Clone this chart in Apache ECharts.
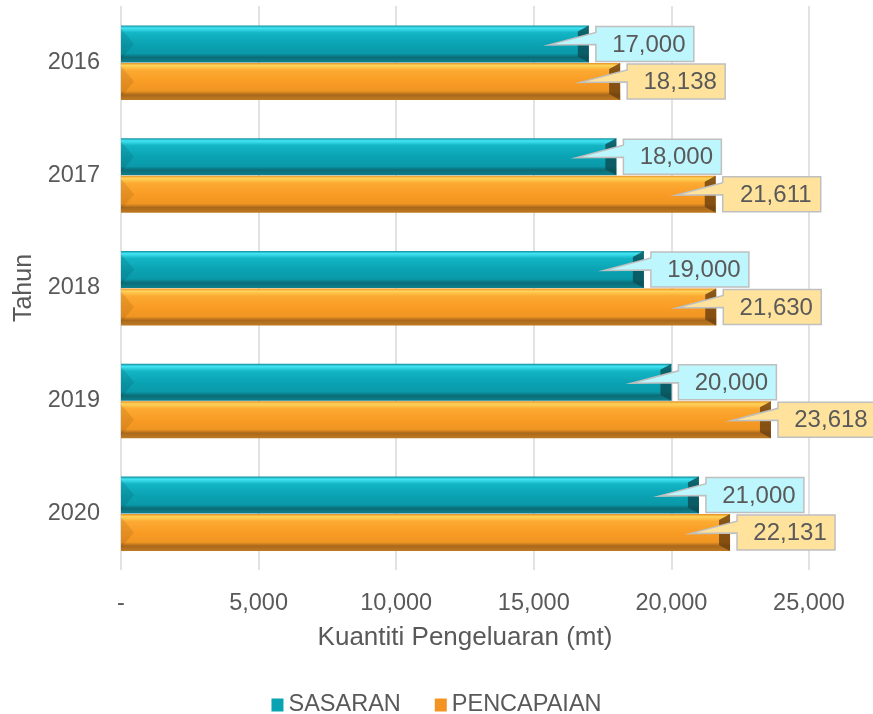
<!DOCTYPE html>
<html>
<head>
<meta charset="utf-8">
<script src="https://cdn.jsdelivr.net/npm/echarts@6/dist/echarts.min.js"></script>
<style>
html,body{margin:0;padding:0;background:#fff;}
#mybox{width:873px;height:714px;}
</style>
</head>
<body>
<div id="mybox"></div>
<script>
// data
var tahun = ['2016', '2017', '2018', '2019', '2020'];
var sasaran = [17000, 18000, 19000, 20000, 21000];
var pencapaian = [18138, 21611, 21630, 23618, 22131];
var xTicks = [0, 5000, 10000, 15000, 20000, 25000];

var grey = '#595959';
var font = '"Liberation Sans", Arial, sans-serif';

// warna untuk setiap siri
var gaya = [
    {
        stops: [[0, '#0e8d9a'], [0.07, '#43e5f4'], [0.2, '#13b5c5'], [0.5, '#0aa3b3'], [0.76, '#0a99a9'], [0.86, '#0b6c77'], [1, '#0d818d']],
        kanan: '#0a4c54', kiri: 'rgba(0,40,50,0.12)', label: '#bdf6fd', legend: '#0aa3b3'
    },
    {
        stops: [[0, '#e58f22'], [0.07, '#ffd45a'], [0.2, '#fcaa32'], [0.5, '#f99c25'], [0.76, '#ef9522'], [0.86, '#a9681b'], [1, '#bf7a22']],
        kanan: '#6a3e0e', kiri: 'rgba(90,40,0,0.12)', label: '#ffe39d', legend: '#f39322'
    }
];

function buatRender(k) {
    var g = gaya[k];
    return function (params, api) {
        var v = api.value(0), ci = api.value(1);
        var c = api.coord([v, ci]);
        var x0 = api.coord([0, ci])[0];
        var h = 37;
        var top = k === 0 ? c[1] - h : c[1] + 0.5;
        var x1 = c[0], y1 = top + h, mid = top + h / 2;
        var bx = x1 + 7, by = top + 1, bw = 98, bh = 35;
        var tipX = x1 - 40, tipY = mid + 1;
        var teks = echarts.format.addCommas(v);
        return {
            type: 'group',
            children: [
                {
                    type: 'rect',
                    shape: { x: x0, y: top, width: x1 - x0, height: h },
                    style: {
                        fill: new echarts.graphic.LinearGradient(0, 0, 0, 1,
                            g.stops.map(function (s) { return { offset: s[0], color: s[1] }; }))
                    }
                },
                {
                    type: 'polygon',
                    shape: { points: [[x0, top + 3], [x0 + 13, mid], [x0, y1 - 3]] },
                    style: { fill: g.kiri }
                },
                {
                    type: 'polygon',
                    shape: { points: [[x1 - 11, top + 6], [x1, top], [x1, y1], [x1 - 11, y1 - 6]] },
                    style: { fill: g.kanan, opacity: 0.8 }
                },
                {
                    type: 'polygon',
                    shape: {
                        points: [[tipX, tipY], [bx, by + 6], [bx, by], [bx + bw, by],
                            [bx + bw, by + bh], [bx, by + bh], [bx, by + 18]]
                    },
                    style: { fill: g.label, stroke: '#bfbfbf', lineWidth: 1.5 },
                    z2: 10
                },
                {
                    type: 'text',
                    x: bx + bw / 2 + 4,
                    y: by + bh / 2 + 1,
                    style: {
                        text: teks, fill: grey, font: '24px ' + font,
                        align: 'center', verticalAlign: 'middle'
                    },
                    z2: 11
                }
            ]
        };
    };
}

var mycharts = echarts.init(document.getElementById('mybox'));
var option = {
    animation: false,
    textStyle: { fontFamily: font },
    grid: { left: 121, right: 64, top: 6, bottom: 144 },
    legend: {
        bottom: -8,
        icon: 'rect',
        itemWidth: 12,
        itemHeight: 13,
        itemGap: 34,
        textStyle: { color: grey, fontSize: 23.5, fontFamily: font },
        data: ['SASARAN', 'PENCAPAIAN']
    },
    xAxis: {
        type: 'value',
        min: xTicks[0],
        max: xTicks[xTicks.length - 1],
        interval: xTicks[1] - xTicks[0],
        name: 'Kuantiti Pengeluaran (mt)',
        nameLocation: 'middle',
        nameGap: 55,
        nameTextStyle: { color: grey, fontSize: 26, fontFamily: font },
        axisLine: { show: false },
        axisTick: { show: false },
        axisLabel: {
            color: grey, fontSize: 23.5, margin: 22,
            formatter: function (v) { return v === 0 ? '-' : echarts.format.addCommas(v); }
        },
        splitLine: { lineStyle: { color: '#d9d9d9', width: 1.5 } }
    },
    yAxis: {
        type: 'category',
        inverse: true,
        data: tahun,
        name: 'Tahun',
        nameLocation: 'middle',
        nameRotate: 90,
        nameGap: 75,
        nameTextStyle: { color: grey, fontSize: 25, fontFamily: font },
        axisLine: { show: false },
        axisTick: { show: false },
        axisLabel: { color: grey, fontSize: 23.5, margin: 21 }
    },
    series: [
        {
            name: 'SASARAN',
            type: 'custom',
            renderItem: buatRender(0),
            encode: { x: 0, y: 1 },
            itemStyle: { color: gaya[0].legend },
            data: sasaran.map(function (v, i) { return [v, i]; })
        },
        {
            name: 'PENCAPAIAN',
            type: 'custom',
            renderItem: buatRender(1),
            encode: { x: 0, y: 1 },
            itemStyle: { color: gaya[1].legend },
            data: pencapaian.map(function (v, i) { return [v, i]; })
        }
    ]
};
mycharts.setOption(option);
</script>
</body>
</html>
